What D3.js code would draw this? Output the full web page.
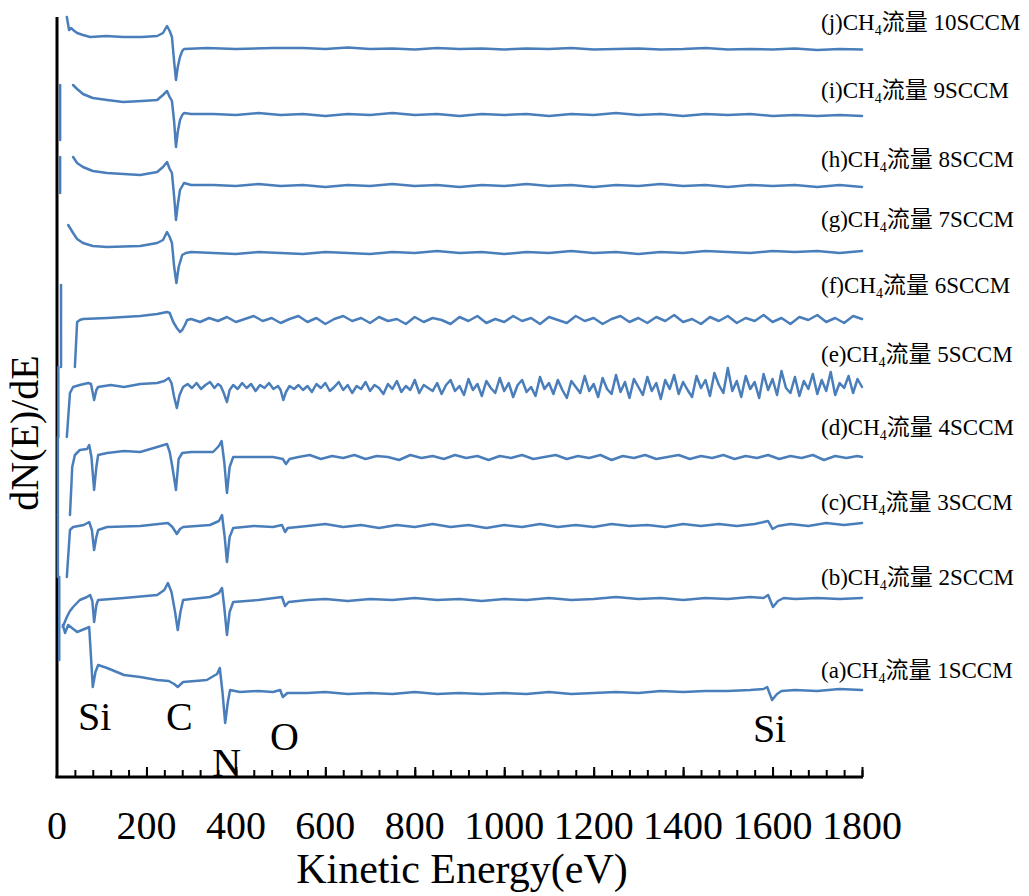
<!DOCTYPE html>
<html>
<head>
<meta charset="utf-8">
<script src="https://cdn.jsdelivr.net/npm/d3@7"></script>
<style>
  body { margin: 0; background: #fff; }
  svg { display: block; }
  text { font-family: "Liberation Serif", "Times New Roman", serif; fill: #000; }
  .cjk { font-family: "Noto Sans CJK SC", sans-serif; }
  .trace { fill: none; stroke: #4a7ebb; stroke-width: 2.5; stroke-linejoin: round; stroke-linecap: round; }
</style>
</head>
<body>
<div id="chart"></div>
<script>
// AES spectra, [kinetic energy (eV), dN/dE in arbitrary offset units]; null = break in the trace
var seriesIds = ["a", "b", "c", "d", "e", "f", "g", "h", "i", "j"];
var flowRates = [1, 2, 3, 4, 5, 6, 7, 8, 9, 10];
var xTickLabels = [0, 200, 400, 600, 800, 1000, 1200, 1400, 1600, 1800];
var peakNames = ["Si", "C", "N", "O", "Si"];
var peakEnergies = [47, 244, 347, 476, 1556];

var traceA = [[13,152],[18,144],[25,152],[45,145],[67,149],[72,150],[76,120],[80,90],[86,105],[92,112],[112,109],[150,102],[186,100],[224,97],[250,96],[262,93],[270,90],[282,95],[335,97],[350,101],[358,103],[364,109],[370,85],[376,54],[382,75],[387,87],[409,85],[450,86],[483,85],[499,87],[505,80],[515,84],[528,84],
  [560,84],[600,85],[650,83],[700,84],[750,83],[800,85],[850,83],[900,84],[950,83],[1000,84],[1050,83],[1100,85],[1150,83],[1200,84],[1250,85],[1300,84],[1350,86],[1400,85],[1450,86],[1500,86],[1550,87],[1580,88],[1588,90],[1599,77],[1610,83],[1620,86],[1650,87],[1700,86],[1750,88],[1800,87]];

var traceB = [[5,200],[5,117],null,[13,150],[22,160],[29,166],[36,170],[51,177],[67,180],[74,182],[79,176],[83,155],[88,172],[92,177],[150,179],[224,182],[240,187],[248,194],[256,185],[264,165],[270,147],[276,165],[282,177],[300,178],[342,180],[362,184],[369,189],[374,170],[380,142],[386,165],[394,175],[450,177],[503,180],[510,171],[518,175],
  [560,177],[600,178],[650,176],[700,178],[750,177],[800,179],[850,177],[900,178],[950,176],[1000,178],[1050,177],[1100,179],[1150,177],[1200,178],[1250,180],[1300,178],[1350,179],[1400,177],[1450,179],[1500,178],[1550,180],[1580,179],[1590,182],[1601,170],[1612,176],[1625,179],[1650,178],[1700,179],[1750,178],[1800,179]];

var traceC = [[2,262],[2,200],null,[22,200],[29,247],[36,250],[60,252],[72,255],[78,247],[83,227],[88,240],[92,247],[112,250],[186,251],[248,254],[258,250],[268,243],[275,248],[282,250],[342,252],[362,256],[369,262],[375,240],[380,215],[386,240],[394,249],[440,251],[483,250],[503,252],[510,245],[516,249],
  [560,251],[600,253],[640,250],[680,252],[720,249],[760,252],[800,250],[840,253],[880,250],[920,252],[960,249],[1000,252],[1040,250],[1080,253],[1120,250],[1160,252],[1200,250],[1240,253],[1280,251],[1320,252],[1360,250],[1400,253],[1440,251],[1480,253],[1520,251],[1560,253],[1590,256],[1600,248],[1612,251],[1640,253],[1680,251],[1720,254],[1760,252],[1800,254]];

var traceD = [[2,340],[2,262],null,[29,262],[32,290],[34,310],[40,322],[51,327],[67,328],[72,332],[77,320],[83,287],[88,310],[92,322],[112,324],[150,326],[186,325],[224,330],[246,333],[252,325],[258,310],[266,287],[272,318],[280,324],[300,325],[349,325],[362,331],[368,336],[374,315],[380,284],[386,310],[394,320],[420,320],[483,320],[505,318],[512,313],[520,318],
  [540,320],[565,322],[590,318],[615,321],[640,319],[665,322],[690,318],[715,321],[740,320],[765,317],[790,322],[815,319],[840,321],[865,318],[890,322],[915,319],[940,321],[965,317],[990,321],[1015,319],[1040,322],[1065,318],[1090,320],[1115,322],[1140,318],[1165,321],[1190,319],[1215,322],[1240,317],[1265,321],[1290,319],[1315,322],[1340,318],[1365,320],[1390,322],[1415,318],[1440,321],[1465,319],[1490,322],[1515,318],[1540,321],[1565,319],[1590,322],[1615,318],[1640,321],[1665,319],[1690,322],[1715,317],[1740,321],[1765,319],[1790,321],[1800,320]];

var traceE = [[3,410],[3,340],null,[22,340],[29,384],[36,390],[51,392],[70,394],[76,393],[80,384],[83,377],[88,387],[92,390],[120,392],[150,390],[186,393],[224,394],[240,396],[250,399],[256,394],[262,380],[268,369],[274,382],[282,390],[292,393],[302,389],[312,394],[322,388],[332,392],[342,395],[352,389],[360,393],[366,391],[372,385],[380,375],[386,387],[394,392],[404,388],[414,394],[424,389],[434,393],[444,386],[454,392],[464,389],[474,394],[484,388],[494,391],[500,387],[506,377],[512,385],[520,391],[530,388],
  [540,392],[550,387],[560,391],[570,385],[580,393],[590,389],[600,394],[610,386],[620,390],[630,395],[640,387],[650,392],[660,384],[670,391],[680,388],[690,395],[700,386],[710,392],[720,389],[730,383],[740,393],[750,388],[760,396],[770,385],[780,391],[790,387],[800,397],[810,384],[820,392],[830,389],[840,386],[850,394],[860,383],[870,392],[880,397],[890,386],[900,391],[910,382],[920,398],[930,387],[940,393],[950,381],[960,396],[970,389],[980,384],[990,399],[1000,386],[1010,394],[1020,380],[1030,392],[1040,397],[1050,385],[1060,390],[1070,381],[1080,400],[1090,388],[1100,394],[1110,383],[1120,397],[1130,387],[1140,379],[1150,396],[1160,390],[1170,384],[1180,401],[1190,386],[1200,393],[1210,380],[1220,399],[1230,388],[1240,383],[1250,402],[1260,385],[1270,395],[1280,379],[1290,398],[1300,390],[1310,382],[1320,400],[1330,386],[1340,394],[1350,378],[1360,397],[1370,388],[1380,402],[1390,383],[1400,395],[1410,387],[1420,380],[1430,401],[1440,389],[1450,397],[1460,381],[1470,404],[1480,392],[1490,384],[1500,409],[1510,386],[1520,396],[1530,380],[1540,401],[1550,388],[1560,395],[1570,379],[1580,403],[1590,387],[1600,398],[1610,382],[1620,406],[1630,389],[1640,384],[1650,400],[1660,381],[1670,396],[1680,388],[1690,403],[1700,383],[1710,397],[1720,386],[1730,405],[1740,382],[1750,394],[1760,389],[1770,401],[1780,384],[1790,398],[1800,390]];

var traceF = [[9,492],[9,410],null,[40,410],[45,455],[51,457],[58,458],[112,459],[186,461],[224,463],[246,465],[252,464],[260,455],[268,449],[275,445],[280,447],[286,452],[291,457],
  [300,458],[320,455],[340,459],[360,456],[380,460],[400,455],[420,458],[440,461],[460,456],[480,459],[500,454],[520,458],[540,461],[560,455],[580,459],[600,453],[620,458],[640,461],[660,456],[680,459],[700,454],[720,460],[740,456],[760,458],[780,453],[800,460],[820,455],[840,459],[860,457],[880,453],[900,460],[920,456],[940,461],[960,454],[980,458],[1000,455],[1020,461],[1040,456],[1060,459],[1080,453],[1100,460],[1120,457],[1140,454],[1160,461],[1180,456],[1200,459],[1220,453],[1240,458],[1260,461],[1280,455],[1300,459],[1320,454],[1340,460],[1360,456],[1380,462],[1400,455],[1420,458],[1440,453],[1460,460],[1480,456],[1500,461],[1520,454],[1540,459],[1560,456],[1580,462],[1600,455],[1620,459],[1640,453],[1660,460],[1680,457],[1700,462],[1720,455],[1740,459],[1760,454],[1780,461],[1800,458]];

var traceG = [[25,552],[36,544],[45,538],[58,534],[80,531],[112,530],[186,531],[224,534],[237,537],[246,545],[252,540],[257,534],[262,510],[267,494],[272,510],[280,522],[288,524],[300,525],
  [350,524],[400,523],[450,525],[500,524],[550,523],[600,525],[650,524],[700,523],[750,525],[800,524],[850,526],[900,524],[950,525],[1000,523],[1050,525],[1100,524],[1150,526],[1200,524],[1250,525],[1300,523],[1350,525],[1400,524],[1450,526],[1500,525],[1550,524],[1600,526],[1650,525],[1700,526],[1750,524],[1800,526]];

var traceH = [[7,620],[7,584],null,[36,620],[45,614],[58,610],[80,606],[112,604],[186,602],[224,605],[237,610],[246,615],[252,608],[257,604],[262,580],[266,557],[270,572],[275,587],[284,594],[300,592],
  [350,592],[400,591],[450,593],[500,591],[550,592],[600,590],[650,592],[700,591],[750,593],[800,591],[850,592],[900,590],[950,592],[1000,591],[1050,593],[1100,591],[1150,592],[1200,590],[1250,592],[1300,591],[1350,593],[1400,591],[1450,592],[1500,590],[1550,592],[1600,591],[1650,592],[1700,590],[1750,592],[1800,590]];

var traceI = [[7,692],[7,637],null,[36,692],[45,688],[58,683],[80,679],[112,677],[148,675],[190,676],[224,677],[237,682],[246,686],[252,680],[257,676],[262,655],[266,630],[270,645],[275,657],[280,662],[284,664],[300,663],
  [350,663],[400,662],[450,664],[500,662],[550,663],[600,661],[650,663],[700,662],[750,664],[800,662],[850,663],[900,661],[950,663],[1000,662],[1050,663],[1100,661],[1150,663],[1200,662],[1250,664],[1300,662],[1350,663],[1400,661],[1450,663],[1500,662],[1550,663],[1600,661],[1650,662],[1700,661],[1750,662],[1800,661]];

var traceJ = [[22,760],[27,747],[32,749],[36,747],[45,744],[58,742],[74,740],[110,741],[148,740],[190,740],[224,741],[237,744],[246,751],[252,746],[257,740],[262,715],[266,697],[270,710],[275,720],[280,726],[284,728],[335,729],[400,728],[483,729],
  [550,729],[600,728],[650,729.5],[700,728],[750,728.5],[800,727.5],[850,729],[900,728],[950,728.5],[1000,727.5],[1050,728.5],[1100,728],[1150,729],[1200,727.5],[1250,728],[1300,728.5],[1350,727.5],[1400,728],[1450,729],[1500,727.5],[1550,728],[1600,727.5],[1650,728.5],[1700,727],[1750,728],[1800,727.5]];

var traces = [traceA, traceB, traceC, traceD, traceE, traceF, traceG, traceH, traceI, traceJ];

// layout
var width = 1029, height = 896;
var labelBaseline = [678, 585, 510, 435, 362, 293, 227, 167, 98, 30];
var peakBaseline = [730, 730, 776, 750, 742];

var svg = d3.select("#chart").append("svg")
  .attr("width", width)
  .attr("height", height);

var x = d3.scaleLinear().domain([0, 1800]).range([57, 862]);
var y = d3.scaleLinear().domain([0, 760]).range([777, 17]);

// axes frame
svg.append("line")
  .attr("x1", 57).attr("x2", 57).attr("y1", 17).attr("y2", 778)
  .attr("stroke", "#000").attr("stroke-width", 3);
svg.append("line")
  .attr("x1", 55.5).attr("x2", 863).attr("y1", 777).attr("y2", 777)
  .attr("stroke", "#000").attr("stroke-width", 3);

var minorAxis = svg.append("g")
  .attr("transform", "translate(0,777)")
  .call(d3.axisBottom(x).tickValues(d3.range(40, 1801, 40)).tickSize(-7).tickFormat(""));
var majorAxis = svg.append("g")
  .attr("transform", "translate(0,777)")
  .call(d3.axisBottom(x).tickValues(xTickLabels.slice(1)).tickSize(-10).tickFormat(""));
svg.selectAll(".domain").remove();
svg.selectAll(".tick line").attr("stroke", "#000").attr("stroke-width", 2);

svg.append("g").selectAll("text")
  .data(xTickLabels)
  .enter().append("text")
  .attr("x", function(d) { return x(d); })
  .attr("y", 839)
  .attr("text-anchor", "middle")
  .style("font-size", "40px")
  .text(function(d) { return d; });

svg.append("text")
  .attr("x", 462).attr("y", 883)
  .attr("text-anchor", "middle")
  .style("font-size", "42px")
  .text("Kinetic Energy(eV)");

svg.append("text")
  .attr("transform", "translate(38,433) rotate(-90)")
  .attr("text-anchor", "middle")
  .style("font-size", "40px")
  .text("dN(E)/dE");

// spectra
var line = d3.line()
  .defined(function(d) { return d !== null; })
  .x(function(d) { return x(d[0]); })
  .y(function(d) { return y(d[1]); });

svg.append("g").selectAll("path")
  .data(traces)
  .enter().append("path")
  .attr("class", "trace")
  .attr("d", line);

// series labels
seriesIds.forEach(function(id, i) {
  var t = svg.append("text")
    .attr("x", 821)
    .attr("y", labelBaseline[i])
    .style("font-size", "23px");
  t.append("tspan").text("(" + id + ")CH");
  t.append("tspan").attr("dy", 5).style("font-size", "14px").text("4");
  t.append("tspan").attr("dy", -5).attr("class", "cjk").text("流量");
  t.append("tspan").text(" " + flowRates[i] + "SCCM");
});

// element labels
svg.append("g").selectAll("text")
  .data(peakNames)
  .enter().append("text")
  .attr("x", function(d, i) { return x(peakEnergies[i]); })
  .attr("y", function(d, i) { return peakBaseline[i]; })
  .style("font-size", "40px")
  .text(function(d) { return d; });
</script>
</body>
</html>
